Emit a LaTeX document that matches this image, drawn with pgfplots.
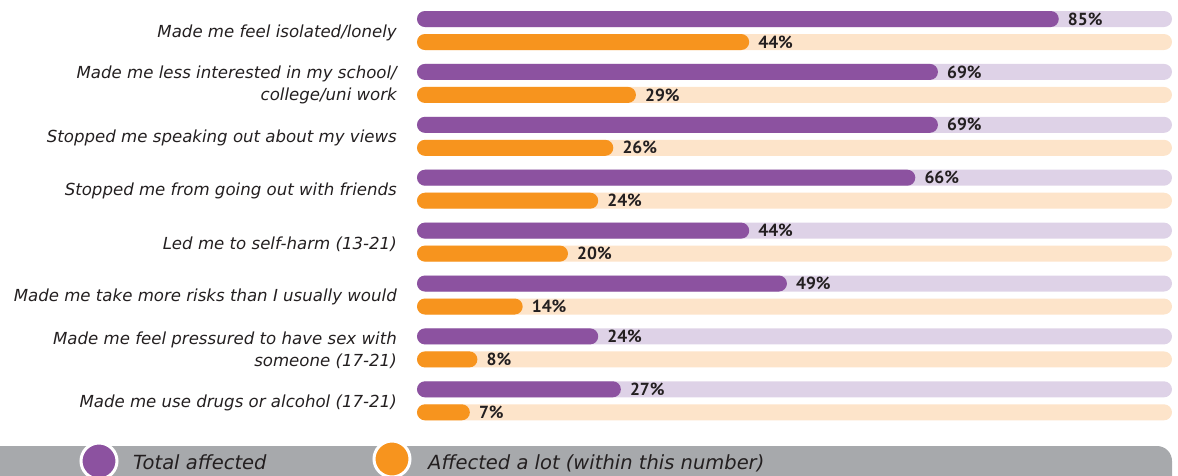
\documentclass[border=0pt]{standalone}
\usepackage{pgfplots}
\pgfplotsset{compat=1.18}
\usepackage{fontspec}
\setmainfont{DejaVu Sans}
\newfontfamily\valfont{PT Sans}
\definecolor{cpurple}{RGB}{140,82,160}
\definecolor{lpurple}{RGB}{222,210,231}
\definecolor{corange}{RGB}{247,148,30}
\definecolor{lorange}{RGB}{253,228,202}
\definecolor{cgray}{RGB}{167,169,172}
\definecolor{ctext}{RGB}{35,31,32}
\begin{document}
\begin{tikzpicture}[x=1pt,y=1pt]
\path[use as bounding box] (0,0) rectangle (1178,-475);
\begin{axis}[
  at={(417pt,-4.05pt)}, anchor=north west,
  scale only axis, width=755pt, height=423.2pt,
  xmin=0, xmax=100, ymin=-0.5, ymax=7.5, y dir=reverse,
  axis line style={draw=none}, major tick length=0pt,
  xtick=\empty, ytick={0,...,7},
  yticklabels={Made me feel isolated/lonely,
    {Made me less interested in my school/\\college/uni work},
    Stopped me speaking out about my views,
    Stopped me from going out with friends,
    Led me to self-harm (13-21),
    Made me take more risks than I usually would,
    {Made me feel pressured to have sex with\\someone (17-21)},
    Made me use drugs or alcohol (17-21)},
  yticklabel style={font=\itshape\fontsize{16.6}{22}\selectfont, text=ctext, align=right, inner sep=0pt, xshift=-20pt, yshift=-2pt},
  clip=false,
  every axis plot/.append style={xbar, bar width=16pt, bar shift=0pt, draw=none, rounded corners=8pt},
  nodes near coords style={font=\valfont\bfseries\fontsize{17.5}{17.5}\selectfont, text=ctext, anchor=west, inner sep=0pt, xshift=9pt},
]
% background tracks
\addplot[fill=lpurple]
  coordinates {(100,-0.2174) (100,0.7826) (100,1.7826) (100,2.7826) (100,3.7826) (100,4.7826) (100,5.7826) (100,6.7826)};
\addplot[fill=lorange]
  coordinates {(100,0.2174) (100,1.2174) (100,2.2174) (100,3.2174) (100,4.2174) (100,5.2174) (100,6.2174) (100,7.2174)};
% Total affected
\addplot[fill=cpurple,
  nodes near coords={\pgfmathprintnumber[assume math mode=true]{\pgfplotspointmeta}\%}]
  coordinates {(85,-0.2174) (69,0.7826) (69,1.7826) (66,2.7826) (44,3.7826) (49,4.7826) (24,5.7826) (27,6.7826)};
% Affected a lot
\addplot[fill=corange,
  nodes near coords={\pgfmathprintnumber[assume math mode=true]{\pgfplotspointmeta}\%}]
  coordinates {(44,0.2174) (29,1.2174) (26,2.2174) (24,3.2174) (20,4.2174) (14,5.2174) (8,6.2174) (7,7.2174)};
\end{axis}
\fill[cgray, rounded corners=15pt] (-40,-446) rectangle (1172,-500);
\filldraw[fill=cpurple, draw=white, line width=3pt] (99,-461) circle (18);
\filldraw[fill=corange, draw=white, line width=3pt] (392,-459) circle (18);
\node[anchor=base west, inner sep=0pt, font=\itshape\fontsize{19.5}{19.5}\selectfont, text=ctext] at (133,-469) {Total affected};
\node[anchor=base west, inner sep=0pt, font=\itshape\fontsize{19.5}{19.5}\selectfont, text=ctext] at (428,-469) {Affected a lot (within this number)};
\end{tikzpicture}
\end{document}
